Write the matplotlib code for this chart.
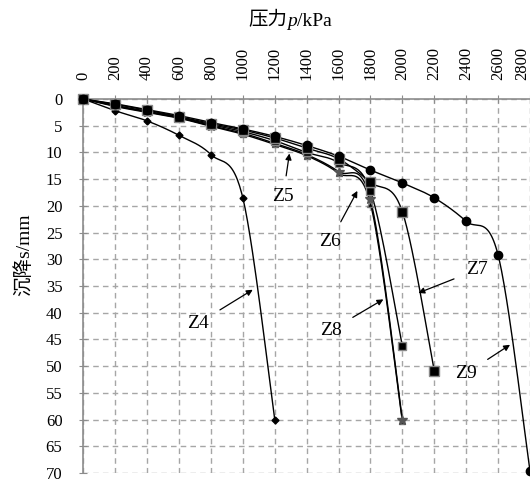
import numpy as np
import matplotlib
matplotlib.use("Agg")
import matplotlib.pyplot as plt
from matplotlib.offsetbox import TextArea, HPacker, AnnotationBbox

plt.rcParams['font.family'] = ['Liberation Serif', 'Noto Sans CJK SC']

# ---- data ----
p_z9 = [0, 200, 400, 600, 800, 1000, 1200, 1400, 1600, 1800, 2000, 2200, 2400, 2600, 2800]
s_z9 = [0, 0.9, 2.0, 3.1, 4.4, 5.6, 7.0, 8.7, 10.7, 13.3, 15.7, 18.5, 22.9, 29.2, 69.6]

p_z7 = [0, 200, 400, 600, 800, 1000, 1200, 1400, 1600, 1800, 2000, 2200]
s_z7 = [0, 1.0, 2.1, 3.3, 4.6, 5.8, 7.3, 9.2, 11.2, 15.6, 21.1, 50.9]

p_z5 = [0, 200, 400, 600, 800, 1000, 1200, 1400, 1600, 1800, 2000]
s_z5 = [0, 1.2, 2.3, 3.4, 4.8, 6.1, 7.8, 10.0, 11.9, 17.2, 46.3]

p_z6 = [0, 200, 400, 600, 800, 1000, 1200, 1400, 1600, 1800, 2000]
s_z6 = [0, 1.3, 2.4, 3.5, 5.0, 6.4, 8.3, 10.4, 13.6, 18.8, 60.0]

p_z8 = [0, 200, 400, 600, 800, 1000, 1200, 1400, 1600, 1800, 2000]
s_z8 = [0, 1.4, 2.5, 3.6, 5.1, 6.6, 8.5, 10.6, 13.9, 19.6, 60.3]

p_z4 = [0, 200, 400, 600, 800, 1000, 1200]
s_z4 = [0, 2.2, 4.1, 6.8, 10.4, 18.5, 60.0]

x_ticks = list(range(0, 2801, 200))
y_ticks = list(range(0, 71, 5))

labels = ['Z4', 'Z5', 'Z6', 'Z7', 'Z8', 'Z9']
label_xy = [(719, 42), (1252, 18.3), (1547, 26.7), (2466, 32), (1551, 43.3), (2398, 51.4)]
arrow_xy = [(1062, 35.7), (1292, 10.2), (1718, 17.2), (2100, 36.3), (1881, 37.5), (2675, 46)]

# ---- figure ----
W, H = 530, 483
fig = plt.figure(figsize=(W / 100, H / 100), dpi=100)
x0, x1 = 83.3, 530.0
y0, y1 = 99.0, 473.0
ax = fig.add_axes([x0 / W, 1 - y1 / H, (x1 - x0) / W, (y1 - y0) / H])
ax.set_xlim(0, 2800)
ax.set_ylim(70, 0)

sx = (x1 - x0) / 2800.0
sy = (y1 - y0) / 70.0


def smooth(p, s, n=30):
    P = np.column_stack([np.array(p, float) * sx, np.array(s, float) * sy])
    out = [P[0]]
    m = len(P)
    for i in range(m - 1):
        p0 = P[i - 1] if i > 0 else P[i]
        p1 = P[i]
        p2 = P[i + 1]
        p3 = P[i + 2] if i + 2 < m else P[i + 1]
        c1 = p1 + (p2 - p0) / 6.0
        c2 = p2 - (p3 - p1) / 6.0
        t = np.linspace(0, 1, n)[1:, None]
        seg = ((1 - t) ** 3) * p1 + 3 * ((1 - t) ** 2) * t * c1 + 3 * (1 - t) * t ** 2 * c2 + t ** 3 * p2
        out.extend(seg)
    out = np.array(out)
    return out[:, 0] / sx, out[:, 1] / sy


series = [
    (p_z4, s_z4, dict(marker='D', ms=3.5, mfc='black', mec='black')),
    (p_z8, s_z8, dict(marker='^', ms=5, mfc='black', mec='#777777')),
    (p_z6, s_z6, dict(marker='*', ms=7, mfc='#555555', mec='#555555')),
    (p_z5, s_z5, dict(marker='s', ms=6, mfc='black', mec='#888888')),
    (p_z7, s_z7, dict(marker='s', ms=6.5, mfc='black', mec='#888888')),
    (p_z9, s_z9, dict(marker='o', ms=6, mfc='black', mec='black')),
]

for p, s, mk in series:
    xs, ys = smooth(p, s)
    ax.plot(xs, ys, color='black', lw=1.0, zorder=3)
    ax.plot(p, s, ls='none', zorder=4, clip_on=False, **mk)

ax.set_xticks(x_ticks)
ax.set_yticks(y_ticks)
ax.grid(True, color='#a6a6a6', ls=(0, (4, 3)), lw=1.0)
ax.set_axisbelow(True)
ax.xaxis.tick_top()
for side in ['bottom', 'right']:
    ax.spines[side].set_visible(False)
for side in ['left', 'top']:
    ax.spines[side].set_color('#8c8c8c')
    ax.spines[side].set_linewidth(1.2)
ax.tick_params(axis='both', direction='inout', length=6, color='#8c8c8c', labelsize=12)
ax.tick_params(axis='x', labelrotation=90, pad=11)
ax.tick_params(axis='y', pad=12)

# keep the last x tick label inside the figure
fig.canvas.draw()
xlabels = ax.get_xticklabels()
xlabels[-1].set_horizontalalignment('right')

for lab, (tx, ty), (axx, ayy) in zip(labels, label_xy, arrow_xy):
    ax.annotate(lab, xy=(axx, ayy), xytext=(tx, ty), fontsize=14,
                ha='center', va='center',
                arrowprops=dict(arrowstyle='-|>', color='black', lw=0.9,
                                mutation_scale=9, shrinkA=7, shrinkB=0))

# x-axis title: 压力 p/kPa with italic p
t1 = TextArea('压力', textprops=dict(fontsize=14, family=['Noto Sans CJK SC']))
t2 = TextArea('p', textprops=dict(fontsize=14, family=['Liberation Serif'], style='italic'))
t3 = TextArea('/kPa', textprops=dict(fontsize=14, family=['Liberation Serif']))
box = HPacker(children=[t1, t2, t3], align='baseline', pad=0, sep=0)
ab = AnnotationBbox(box, (290 / W, 1 - 20 / H), xycoords='figure fraction',
                    frameon=False, box_alignment=(0.5, 0.5), pad=0)
fig.add_artist(ab)

fig.text(24 / W, 1 - 255 / H, '沉降s/mm', fontsize=14, ha='center', va='center', rotation=90)

fig.savefig('out.png', dpi=100)
